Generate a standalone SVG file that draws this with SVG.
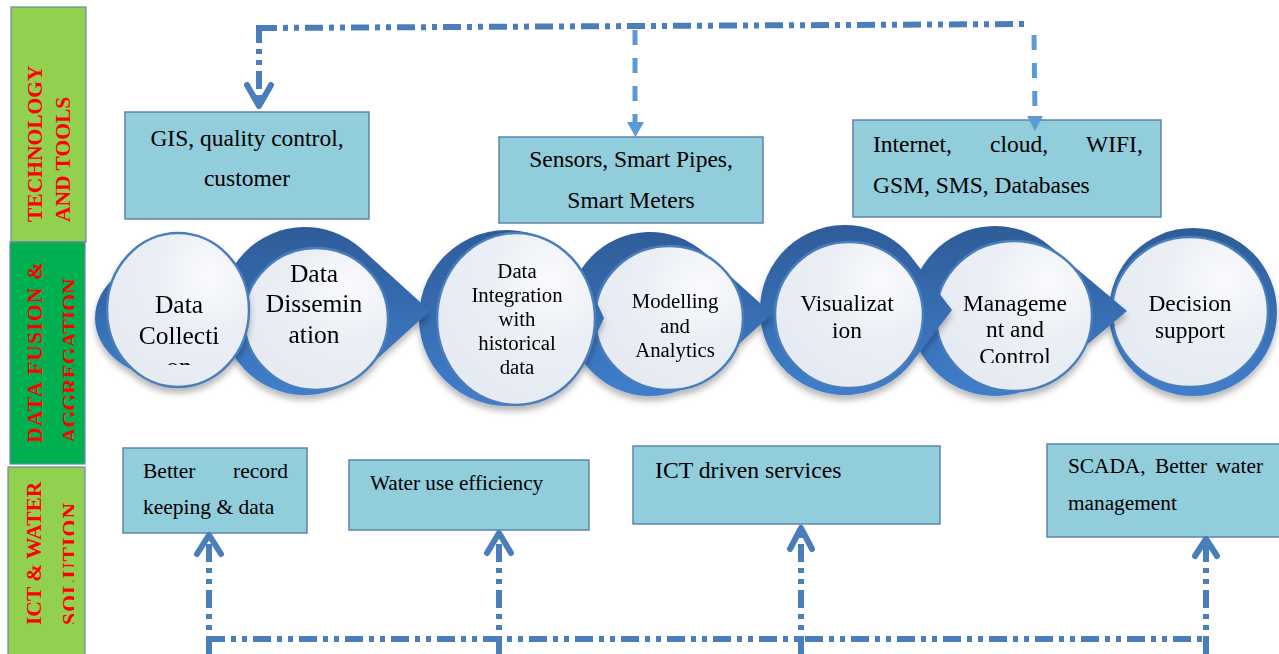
<svg xmlns="http://www.w3.org/2000/svg" width="1279" height="654" viewBox="0 0 1279 654">
<defs>
<style>
.bar1{fill:#92D050;stroke:#6A89A8;stroke-width:1.2}
.bar2{fill:#00B050;stroke:#6A89A8;stroke-width:1.2}
.bt{font-family:"Liberation Serif",serif;font-weight:bold;font-size:21.5px;fill:#FF0000}
.box{fill:#92CDDC;stroke:#5F83AD;stroke-width:1.5}
.tx{font-family:"Liberation Serif",serif;fill:#000}
.ct{font-family:"Liberation Serif",serif;fill:#000;text-anchor:middle}
.blue{fill:url(#blueGrad)}
.light{fill:url(#lightGrad);stroke:#4A7EBB;stroke-width:2.5}
.dd{fill:none;stroke:#4A7EBB;stroke-width:6;stroke-dasharray:18 6 5 6 5 6}
.dash{fill:none;stroke:#5B9BD5;stroke-width:5;stroke-dasharray:15 13}
.chev{fill:none;stroke:#4A7EBB;stroke-width:6;stroke-linecap:round;stroke-linejoin:round}
.tri{fill:#5B9BD5}
</style>
<linearGradient id="blueGrad" x1="0" y1="0" x2="0" y2="1">
<stop offset="0" stop-color="#2E5C98"/>
<stop offset="1" stop-color="#407ECC"/>
</linearGradient>
<radialGradient id="lightGrad" cx="0.72" cy="0.28" r="0.75">
<stop offset="0" stop-color="#FAFBFD"/>
<stop offset="0.5" stop-color="#EBEFF5"/>
<stop offset="1" stop-color="#E6EAF2"/>
</radialGradient>
<filter id="shadow" x="-20%" y="-20%" width="140%" height="150%">
<feDropShadow dx="0" dy="5" stdDeviation="3" flood-color="#000" flood-opacity="0.28"/>
</filter>
<clipPath id="clipBar"><rect x="0" y="0" width="74" height="654"/></clipPath>
<clipPath id="clipN1"><rect x="100" y="220" width="160" height="145"/></clipPath>
<clipPath id="clipN6"><rect x="930" y="220" width="170" height="143"/></clipPath>
</defs>
<rect x="0" y="0" width="1279" height="654" fill="#FFFFFF"/>

<!-- Left category bars -->
<g id="bar-technology">
<rect class="bar1" x="11" y="7" width="75" height="235"/>
<text class="bt" transform="translate(42 222) rotate(-90)">TECHNOLOGY</text>
<text class="bt" transform="translate(70 222) rotate(-90)">AND TOOLS</text>
</g>
<g id="bar-fusion">
<rect class="bar2" x="10" y="242" width="75" height="222"/>
<g clip-path="url(#clipBar)">
<text class="bt" transform="translate(42 443) rotate(-90)" textLength="181" lengthAdjust="spacing">DATA FUSION &amp;</text>
<text class="bt" transform="translate(77 443) rotate(-90)">AGGREGATION</text>
</g>
</g>
<g id="bar-ict">
<rect class="bar1" x="8" y="467" width="77" height="192"/>
<g clip-path="url(#clipBar)">
<text class="bt" transform="translate(41 625) rotate(-90)">ICT &amp; WATER</text>
<text class="bt" transform="translate(77 625) rotate(-90)" textLength="122" lengthAdjust="spacing">SOLUTION</text>
</g>
</g>

<!-- Process circles (drawn right to left) -->
<g id="node-decision" filter="url(#shadow)">
<circle class="blue" cx="1193" cy="312" r="84"/>
<ellipse class="light" cx="1190" cy="312" rx="78" ry="75"/>
<text class="ct" font-size="23.4"><tspan x="1190" y="311">Decision</tspan><tspan x="1190" y="338">support</tspan></text>
</g>
<g id="node-management" filter="url(#shadow)">
<path class="blue" d="M1049.7,246 A85,85 0 1 0 1049.7,376 L1127,311 Z"/>
<ellipse class="light" cx="1014" cy="316" rx="78" ry="75"/>
<text class="ct" font-size="23.4" clip-path="url(#clipN6)"><tspan x="1015" y="311">Manageme</tspan><tspan x="1015" y="337">nt and</tspan><tspan x="1015" y="364">Control</tspan></text>
</g>
<g id="node-visualization" filter="url(#shadow)">
<path class="blue" d="M912.5,258.4 A85,85 0 1 0 912.5,361.6 L952,310 Z"/>
<ellipse class="light" cx="849" cy="315" rx="74" ry="73"/>
<text class="ct" font-size="23.4"><tspan x="847" y="311">Visualizat</tspan><tspan x="847" y="338">ion</tspan></text>
</g>
<g id="node-modelling" filter="url(#shadow)">
<path class="blue" d="M705.1,253.3 A82,82 0 1 0 705.1,374.7 L772,314 Z"/>
<ellipse class="light" cx="669" cy="318" rx="74" ry="72"/>
<text class="ct" font-size="20.8"><tspan x="675" y="308">Modelling</tspan><tspan x="675" y="333">and</tspan><tspan x="675" y="357">Analytics</tspan></text>
</g>
<g id="node-integration" filter="url(#shadow)">
<path class="blue" d="M586.8,281 A88,88 0 1 0 586.8,355 L604,318 Z"/>
<ellipse class="light" cx="516" cy="319" rx="79" ry="86"/>
<text class="ct" font-size="20.8"><tspan x="517" y="278">Data</tspan><tspan x="517" y="302">Integration</tspan><tspan x="517" y="326">with</tspan><tspan x="517" y="350">historical</tspan><tspan x="517" y="374">data</tspan></text>
</g>
<g id="node-dissemination" filter="url(#shadow)">
<path class="blue" d="M361.4,248.8 A84,84 0 1 0 361.4,373.2 L430,311 Z"/>
<ellipse class="light" cx="316" cy="319" rx="72" ry="71"/>
<text class="ct" font-size="25.5"><tspan x="314" y="282">Data</tspan><tspan x="314" y="312">Dissemin</tspan><tspan x="314" y="343">ation</tspan></text>
</g>
<g id="node-collection" filter="url(#shadow)">
<ellipse class="blue" cx="170" cy="318" rx="75" ry="60"/>
<ellipse class="light" cx="178" cy="310" rx="71" ry="77"/>
<text class="ct" font-size="25.5" clip-path="url(#clipN1)"><tspan x="179" y="313">Data</tspan><tspan x="179" y="344">Collecti</tspan><tspan x="179" y="375">on</tspan></text>
</g>

<!-- Technology boxes -->
<g id="box-gis">
<rect class="box" x="125" y="112" width="244" height="107"/>
<text class="tx" font-size="23.5" text-anchor="middle"><tspan x="247" y="146">GIS, quality control,</tspan><tspan x="247" y="186">customer</tspan></text>
</g>
<g id="box-sensors">
<rect class="box" x="499" y="137" width="264" height="86"/>
<text class="tx" font-size="23.5" text-anchor="middle"><tspan x="631" y="167">Sensors, Smart Pipes,</tspan><tspan x="631" y="208">Smart Meters</tspan></text>
</g>
<g id="box-internet">
<rect class="box" x="853" y="120" width="308" height="97"/>
<text class="tx" font-size="23.5"><tspan x="873" y="152">Internet,</tspan><tspan x="990" y="152">cloud,</tspan><tspan x="1086" y="152">WIFI,</tspan><tspan x="873" y="193">GSM, SMS, Databases</tspan></text>
</g>

<!-- Solution boxes -->
<g id="box-records">
<rect class="box" x="123" y="448" width="184" height="85"/>
<text class="tx" font-size="21.5"><tspan x="143" y="478">Better</tspan><tspan x="288" y="478" text-anchor="end">record</tspan><tspan x="143" y="514">keeping &amp; data</tspan></text>
</g>
<g id="box-water">
<rect class="box" x="349" y="460" width="240" height="70"/>
<text class="tx" font-size="21.2" x="370" y="490">Water use efficiency</text>
</g>
<g id="box-ict">
<rect class="box" x="633" y="446" width="307" height="78"/>
<text class="tx" font-size="23.7" x="655" y="478">ICT driven services</text>
</g>
<g id="box-scada">
<rect class="box" x="1047" y="444" width="240" height="93"/>
<text class="tx" font-size="21.3"><tspan x="1068" y="473">SCADA,</tspan><tspan x="1155" y="473">Better</tspan><tspan x="1263" y="473" text-anchor="end">water</tspan><tspan x="1068" y="510">management</tspan></text>
</g>

<!-- Connectors -->
<g id="connectors">
<path class="dd" d="M259,28 L1030,24"/>
<path class="dd" d="M259,25 L259,100"/>
<path class="chev" d="M247,85 L259,106 L271,85"/>
<path class="dash" d="M635,30 L635,122"/>
<polygon class="tri" points="627,122 644,122 635.5,137"/>
<path class="dash" d="M1034,35 L1035,116"/>
<polygon class="tri" points="1027,116 1043,116 1035,131"/>

<path class="dd" d="M207,639 L1206,639"/>
<path class="dd" d="M209,654 L209,542"/>
<path class="chev" d="M197,554 L209,535 L221,554"/>
<path class="dd" d="M499,654 L499,540"/>
<path class="chev" d="M487,553 L499,533 L511,553"/>
<path class="dd" d="M801,654 L801,534"/>
<path class="chev" d="M790,549 L801,528 L812,549"/>
<path class="dd" d="M1206,654 L1206,545"/>
<path class="chev" d="M1195,556 L1206,539 L1217,556"/>
</g>
</svg>
